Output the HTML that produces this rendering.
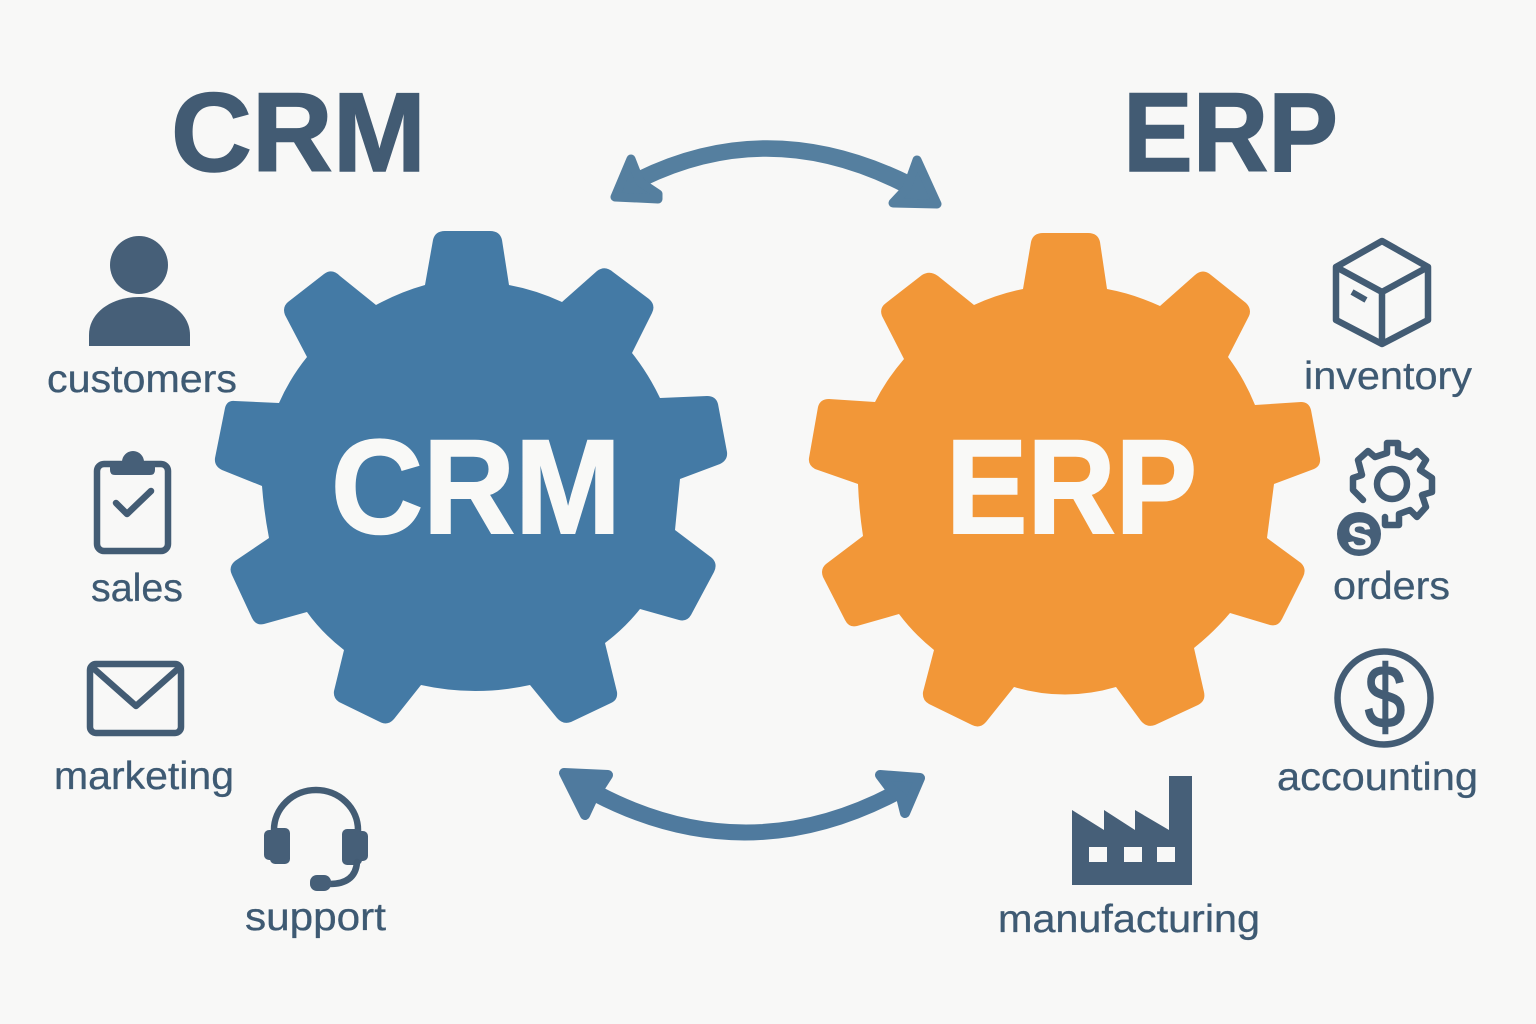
<!DOCTYPE html>
<html><head><meta charset="utf-8"><style>
html,body{margin:0;padding:0;background:#f8f8f7}
svg{display:block}
text{font-family:"Liberation Sans",sans-serif}
.l{font-size:39px;fill:#3e5a73;stroke:#3e5a73;stroke-width:.3}
.t{font-size:112px;font-weight:bold;fill:#425b73;stroke:#425b73;stroke-width:1.5}
.g{font-size:134px;font-weight:bold;fill:#f9f9f7;stroke:#f9f9f7;stroke-width:2}
.i{fill:none;stroke:#435c74;stroke-width:6.5;stroke-linejoin:round;stroke-linecap:round}
.f{fill:#465f78}
</style></head><body>
<svg width="1536" height="1024" viewBox="0 0 1536 1024" xmlns="http://www.w3.org/2000/svg">
<rect width="1536" height="1024" fill="#f8f8f7"/>
<text class="t" x="171" y="171" textLength="255" lengthAdjust="spacingAndGlyphs">CRM</text>
<text class="t" x="1123" y="171" textLength="215" lengthAdjust="spacingAndGlyphs">ERP</text>

<path fill="#447aa5" d="M425,285 L433,240 Q435,231 445,231 L490,231 Q500,231 502,240 L509,285 Q536,290 562,302 L597,271 Q605,265 613,272 L649,299 Q656,305 652,313 L632,353 Q648,373 660,398 L707,396 Q716,396 718,404 L727,452 Q728,460 720,464 L680,479 L675,530 L712,558 Q718,564 714,572 L691,615 Q687,622 679,620 L640,609 Q625,628 605,643 L617,692 Q618,700 611,703 L571,722 Q563,725 557,718 L530,685 Q475,697 421,685 L394,719 Q388,726 380,722 L339,702 Q333,698 334,691 L344,650 Q322,633 307,612 L264,624 Q256,626 252,618 L232,575 Q228,567 235,561 L269,538 Q264,512 262,486 L222,470 Q214,466 215,458 L225,408 Q227,400 235,401 L279,403 Q290,378 307,357 L285,315 Q282,307 288,302 L324,274 Q332,268 340,276 L376,305 Q400,292 425,285 Z"/>
<path fill="#f29738" d="M1023,289 L1031,242 Q1033,233 1043,233 L1088,233 Q1098,233 1100,242 L1107,289 Q1134,294 1160,306 L1195,275 Q1203,268 1211,275 L1246,303 Q1252,309 1249,316 L1228,357 Q1244,378 1255,405 L1301,402 Q1309,402 1311,410 L1320,458 Q1321,466 1314,469 L1274,484 L1267,538 L1301,563 Q1307,569 1303,577 L1282,619 Q1278,627 1270,625 L1230,613 Q1214,632 1194,648 L1204,692 Q1206,701 1198,705 L1155,725 Q1147,728 1141,721 L1116,687 Q1065,702 1014,687 L986,722 Q980,729 972,725 L929,704 Q922,700 923,692 L934,650 Q914,634 899,614 L857,626 Q849,628 845,620 L823,577 Q820,569 826,564 L863,536 Q859,510 858,484 L815,469 Q808,465 809,458 L818,407 Q820,399 829,399 L875,402 Q886,380 904,359 L882,316 Q879,308 886,303 L922,275 Q930,270 938,276 L974,305 Q998,294 1023,289 Z"/>

<text class="g" x="331" y="533" textLength="290" lengthAdjust="spacingAndGlyphs">CRM</text>
<text class="g" x="946" y="533" textLength="251" lengthAdjust="spacingAndGlyphs">ERP</text>

<!-- top arrow -->
<path fill="#557f9f" d="M636,172 Q770,106 913,177 L900,191 Q770,125 645,186 Z"/>
<polygon points="631,159 615,197 658,199 658,194 640,182" fill="#557f9f" stroke="#557f9f" stroke-width="9" stroke-linejoin="round"/>
<polygon points="917,160 937,204 893,203 907,188" fill="#557f9f" stroke="#557f9f" stroke-width="9" stroke-linejoin="round"/>
<!-- bottom arrow -->
<path fill="#4f7a9e" d="M602,787 Q746,862 890,787 L901,799 Q746,881 592,801 Z"/>
<polygon points="564,773 608,775 599,789 592,800 585,815" fill="#4f7a9e" stroke="#4f7a9e" stroke-width="10" stroke-linejoin="round"/>
<polygon points="880,775 920,778 905,813 901,797 889,787" fill="#4f7a9e" stroke="#4f7a9e" stroke-width="10" stroke-linejoin="round"/>

<!-- customers -->
<circle class="f" cx="139" cy="265" r="29"/>
<path class="f" d="M89,346 V335 C89,312 112,297 139,297 C166,297 190,312 190,335 V346 Z"/>
<text class="l" x="47" y="392" textLength="190" lengthAdjust="spacingAndGlyphs">customers</text>

<!-- sales -->
<rect class="i" x="97" y="464" width="71" height="87" rx="7"/>
<path class="f" d="M110,462 H122 A11,11 0 0 1 144,462 H155 V470 Q155,475 150,475 H115 Q110,475 110,470 Z"/>
<path class="i" d="M116,503 L127,514 L151,491" stroke-width="5"/>
<text class="l" x="91" y="601" textLength="92" lengthAdjust="spacingAndGlyphs">sales</text>

<!-- marketing -->
<rect class="i" x="90" y="664" width="91" height="69" rx="6"/>
<path class="i" d="M92,667 L136,706 L180,667" stroke-width="6"/>
<text class="l" x="54" y="789" textLength="180" lengthAdjust="spacingAndGlyphs">marketing</text>

<!-- support -->
<path class="i" d="M274,835 V830 A42,40 0 0 1 358,830 V835" stroke-width="7.5"/>
<rect class="f" x="264" y="830" width="12" height="30" rx="5"/>
<rect class="f" x="270" y="828" width="20" height="36" rx="5"/>
<rect class="f" x="342" y="829" width="20" height="36" rx="5"/>
<rect class="f" x="356" y="831" width="12" height="30" rx="5"/>
<path class="i" d="M357,862 C356,878 345,884 330,884" stroke-width="5.5"/>
<rect class="f" x="310" y="875" width="21" height="16" rx="7"/>
<text class="l" x="245" y="930" textLength="141" lengthAdjust="spacingAndGlyphs">support</text>

<!-- inventory -->
<path class="i" d="M1382,241 L1428,267 V320 L1382,344 L1336,320 V267 Z M1336,267 L1382,292 L1428,267 M1382,292 V344"/>
<path d="M1352,292 L1366,300" stroke="#435c74" stroke-width="6" fill="none"/>
<text class="l" x="1304" y="389" textLength="168" lengthAdjust="spacingAndGlyphs">inventory</text>

<!-- orders gear -->
<circle class="i" cx="1392" cy="484" r="15"/>
<path class="i" d="M1363,500 L1353,490 V478 L1362,475 L1358,460 L1368,451 L1375,457 L1387,453 V443 H1398 V453 L1410,457 L1417,451 L1426,460 L1420,470 L1432,478 V492 L1422,495 L1426,507 L1417,517 L1410,510 L1399,514 V525 H1385 V517" stroke-width="5.5"/>
<circle class="f" cx="1359" cy="534" r="22"/>
<text x="1347" y="549" style="font-size:38px;font-weight:bold;fill:#f8f8f7">S</text>
<text class="l" x="1333" y="599" textLength="117" lengthAdjust="spacingAndGlyphs">orders</text>

<!-- accounting -->
<circle class="i" cx="1384" cy="698" r="46.5" stroke-width="7.5"/>
<text x="1365" y="727" textLength="40" lengthAdjust="spacingAndGlyphs" style="font-size:88px;fill:#435c74;stroke:#435c74;stroke-width:2">$</text>
<text class="l" x="1277" y="790" textLength="201" lengthAdjust="spacingAndGlyphs">accounting</text>

<!-- manufacturing -->
<path class="f" fill-rule="evenodd" d="M1072,885 V810 L1104,830 V810 L1135,830 V810 L1169,830 V776 H1192 V885 Z M1089,847 V862 H1107 V847 Z M1124,847 V862 H1142 V847 Z M1157,847 V862 H1175 V847 Z"/>
<text class="l" x="998" y="932" textLength="262" lengthAdjust="spacingAndGlyphs">manufacturing</text>
</svg>
</body></html>
